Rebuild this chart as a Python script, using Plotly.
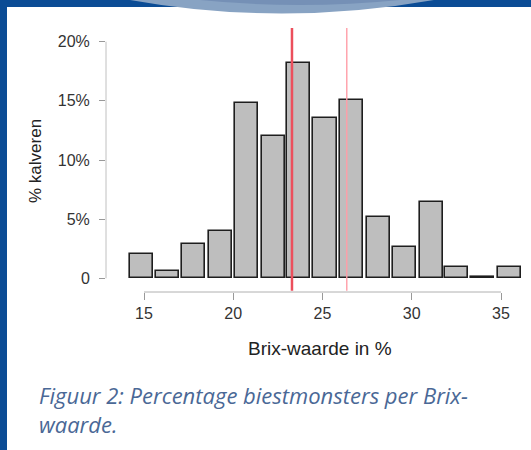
import plotly.graph_objects as go

# ---- data ----
brix_bins = [14.87, 16.32, 17.76, 19.26, 20.74, 22.25, 23.66, 25.14, 26.62,
             28.14, 29.59, 31.08, 32.48, 33.96, 35.45]
pct_calves = [2.03, 0.64, 2.90, 3.97, 14.8, 12.06, 18.17, 13.55, 15.05,
              5.20, 2.62, 6.45, 0.95, 0.14, 0.95]
x_ticks = [15, 20, 25, 30, 35]
y_ticks = [0, 5, 10, 15, 20]
y_tick_labels = ["0", "5%", "10%", "15%", "20%"]
ref_lines = [23.29, 26.36]

W, H = 531, 450
L, R, T, B = 106, 525, 28, 292


def px(x):
    return (x - L) / (R - L)


def py(y):
    return (B - y) / (B - T)


fig = go.Figure()
fig.add_trace(go.Bar(
    x=brix_bins, y=pct_calves, width=1.29,
    marker=dict(color="#bebebe", line=dict(color="#1e1e1e", width=1.6)),
    hoverinfo="skip",
))

shapes = []
# R-style axis lines
shapes.append(dict(type="line", xref="x", yref="paper", x0=x_ticks[0], x1=x_ticks[-1],
                   y0=0, y1=0, line=dict(color="#b0b0b0", width=1)))
shapes.append(dict(type="line", xref="paper", yref="y", x0=0, x1=0,
                   y0=y_ticks[0], y1=y_ticks[-1], line=dict(color="#c0c0c0", width=1)))
# reference lines
shapes.append(dict(type="line", xref="x", yref="paper", x0=ref_lines[0], x1=ref_lines[0],
                   y0=0.005, y1=1, line=dict(color="#ec4f5c", width=2.5), layer="above"))
shapes.append(dict(type="line", xref="x", yref="paper", x0=ref_lines[1], x1=ref_lines[1],
                   y0=0.005, y1=1, line=dict(color="#ff9ea8", width=1.4), layer="above"))
# decorative frame
shapes.append(dict(type="rect", xref="paper", yref="paper", x0=px(0), x1=px(W),
                   y0=py(0), y1=py(7), fillcolor="#0b4c95", line=dict(width=0), layer="above"))
shapes.append(dict(type="rect", xref="paper", yref="paper", x0=px(0), x1=px(7),
                   y0=py(0), y1=py(H), fillcolor="#0b4c95", line=dict(width=0), layer="above"))
shapes.append(dict(type="path", xref="paper", yref="paper",
                   path=f"M {px(130)},{py(0)} Q {px(281)},{py(27)} {px(434)},{py(0)} Z",
                   fillcolor="#88a3c3", line=dict(width=0), layer="above"))
shapes.append(dict(type="path", xref="paper", yref="paper",
                   path=f"M {px(200)},{py(0)} Q {px(300)},{py(10)} {px(400)},{py(0)} Z",
                   fillcolor="#7590b6", line=dict(width=0), layer="above"))

title_font = dict(size=17, color="#222222", family="Liberation Sans, Arial")
cap_font = dict(size=22, color="#4a6896", family="Open Sans, Lato")
annotations = [
    dict(text="Brix-waarde in %", xref="paper", yref="paper", x=px(320), y=py(348),
         xanchor="center", yanchor="middle", showarrow=False,
         font=dict(size=19, color="#222222", family="Liberation Sans, Arial")),
    dict(text="% kalveren", xref="paper", yref="paper", x=px(35), y=py(161), textangle=-90,
         xanchor="center", yanchor="middle", showarrow=False, font=title_font),
    dict(text="<i>Figuur 2: Percentage biestmonsters per Brix-</i>", xref="paper", yref="paper",
         x=px(38), y=py(395), xanchor="left", yanchor="middle", showarrow=False,
         font=cap_font, borderpad=0),
    dict(text="<i>waarde.</i>", xref="paper", yref="paper",
         x=px(38), y=py(424), xanchor="left", yanchor="middle", showarrow=False,
         font=cap_font, borderpad=0),
]

fig.update_layout(
    width=W, height=H,
    margin=dict(l=L, r=W - R, t=T, b=H - B, pad=0),
    paper_bgcolor="white", plot_bgcolor="white",
    showlegend=False, bargap=0,
    shapes=shapes, annotations=annotations,
    font=dict(family="Liberation Sans, Arial", size=16, color="#333333"),
)
fig.update_xaxes(
    range=[15 + (L - 144) / 17.85, 15 + (R - 144) / 17.85],
    tickvals=x_ticks, ticktext=[str(v) for v in x_ticks],
    ticks="outside", ticklen=7, tickcolor="#999999", tickwidth=1,
    showgrid=False, zeroline=False, showline=False,
    tickfont=dict(size=16, color="#333333"),
)
fig.update_yaxes(
    range=[-13.7 / 11.83, 250.3 / 11.83],
    tickvals=y_ticks, ticktext=y_tick_labels,
    ticks="outside", ticklen=6, tickcolor="#999999", tickwidth=1,
    showgrid=False, zeroline=False, showline=False,
    tickfont=dict(size=16, color="#333333"), ticklabelstandoff=6,
)

fig.write_html("out.html", config={"displayModeBar": False},
               post_script="document.body.style.margin='0';")
